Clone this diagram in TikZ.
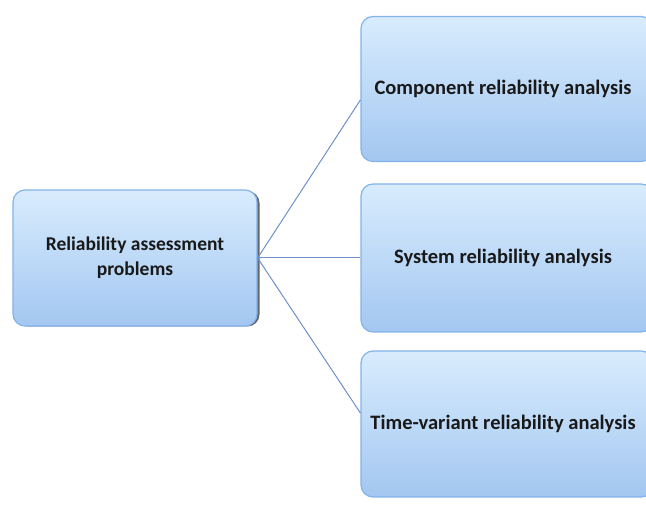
\documentclass[tikz,border=0pt]{standalone}
\usepackage{fontspec}
\setmainfont{Carlito}
\definecolor{boxtop}{HTML}{D8ECFD}
\definecolor{boxbot}{HTML}{A3C7F1}
\definecolor{boxedge}{HTML}{82B3EA}
\definecolor{linkcol}{HTML}{6F8FCA}
\tikzset{
  box/.style={draw=boxedge, line width=1.2pt, rounded corners=12pt, top color=boxtop, bottom color=boxbot,
    inner sep=0pt, align=center, font=\bfseries\fontsize{20.5}{24}\selectfont, text=black!90},
  link/.style={draw=linkcol, line width=1pt}
}
\begin{document}
\begin{tikzpicture}[x=1pt,y=-1pt]
\useasboundingbox (0,0) rectangle (646,510);
\fill[black!60, rounded corners=12pt] (16,191) rectangle (259.5,326.5);
\node[box, minimum width=244pt, minimum height=136pt, font=\bfseries\fontsize{19.5}{25}\selectfont] (root) at (135,258) {Reliability assessment\\problems};
\node[box, minimum width=292pt, minimum height=145pt] (c1) at (507,89) {\hspace*{-4pt}Component reliability analysis\hspace*{4pt}};
\node[box, minimum width=292pt, minimum height=148pt] (c2) at (507,258) {\hspace*{-4pt}System reliability analysis\hspace*{4pt}};
\node[box, minimum width=292pt, minimum height=146pt] (c3) at (507,424) {\hspace*{-4pt}Time-variant reliability analysis\hspace*{4pt}};
\coordinate (e1) at (c1.west |- 0,100);
\coordinate (e3) at (c3.west |- 0,413);
\draw[link] (root.east) -- (e1);
\draw[link] (root.east) -- (c2.west);
\draw[link] (root.east) -- (e3);
\end{tikzpicture}
\end{document}
